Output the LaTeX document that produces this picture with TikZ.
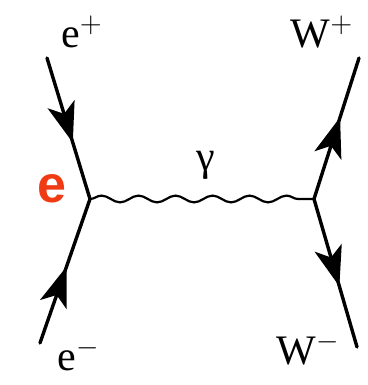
\documentclass[tikz,border=0pt]{standalone}
\usepackage{fontspec}
\setmainfont{Liberation Serif}
\newfontfamily\labsans{Liberation Sans}
\usepackage{tikz}
\usetikzlibrary{arrows.meta, decorations.markings, decorations.pathmorphing}
\definecolor{figR}{RGB}{240,58,20}
\tikzset{fermion/.style={line width=1.7pt, line cap=round, postaction={decorate},
    decoration={markings, mark=at position #1 with {\arrow{Stealth[length=20pt,width=14pt,inset=5pt]}}}},
  photon/.style={line width=1.1pt, decorate, decoration={snake, amplitude=1.7pt, segment length=18.5pt}},
  lab/.style={font=\fontsize{21}{24}\selectfont, inner sep=0pt}}
\begin{document}
\begin{tikzpicture}[x=0.5pt, y=-0.5pt]
\useasboundingbox (0,0) rectangle (368,385);
% vertices and external ends
\coordinate (vL) at (90,199);
\coordinate (vR) at (314,199);
\coordinate (ep) at (47,58);
\coordinate (em) at (40,343);
\coordinate (wp) at (359,58);
\coordinate (wm) at (357,347);
% fermion lines
\draw[fermion=0.6] (ep) -- (vL);
\draw[fermion=0.53] (em) -- (vL);
\draw[fermion=0.58] (vR) -- (wp);
\draw[fermion=0.59] (vR) -- (wm);
% photon
\draw[photon] (vL) -- (vR);
% labels
\node[lab] (lep) at (82,32) {e$^{+}$};
\node[lab] (lem) at (79,355) {e$^{-}$};
\node[lab] (lwp) at (322,32) {W$^{+}$};
\node[lab] (lwm) at (308,349) {W$^{-}$};
\node[lab] (lg) at (206,165) {γ};
\node[figR, font=\labsans\bfseries\fontsize{26}{28}\selectfont, inner sep=0pt] (le) at (52,189) {e};
\end{tikzpicture}
\end{document}
